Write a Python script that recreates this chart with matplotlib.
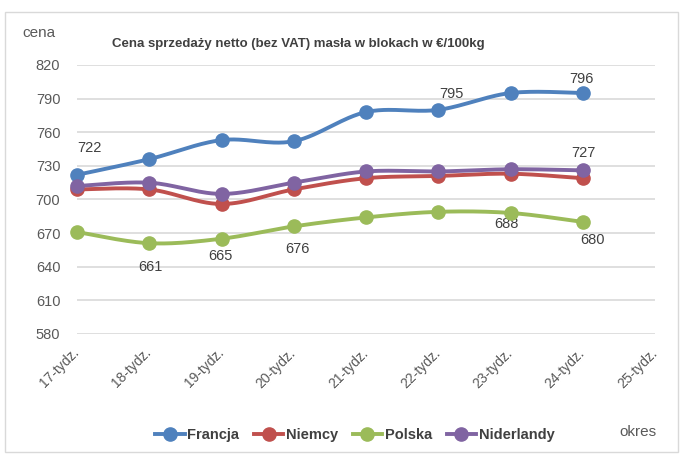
import numpy as np
import matplotlib
matplotlib.use("Agg")
import matplotlib.pyplot as plt
from matplotlib.patches import Rectangle
from matplotlib.lines import Line2D

plt.rcParams['font.family'] = ['Liberation Sans', 'DejaVu Sans']

categories = ["17-tydz.", "18-tydz.", "19-tydz.", "20-tydz.", "21-tydz.",
              "22-tydz.", "23-tydz.", "24-tydz.", "25-tydz."]
francja = [722, 736, 753, 752, 778, 780, 795, 795]
niemcy = [709, 709, 696, 709, 719, 721, 723, 719]
polska = [671, 661, 665, 676, 684, 689, 688, 680]
niderlandy = [712, 715, 705, 715, 725, 725, 727, 726]
yticks = [580, 610, 640, 670, 700, 730, 760, 790, 820]

# data labels: (series, index, text)
label_series = ["francja", "francja", "francja", "niderlandy",
                "polska", "polska", "polska", "polska", "polska"]
label_index = [0, 5, 7, 7, 1, 2, 3, 6, 7]
label_text = ["722", "795", "796", "727", "661", "665", "676", "688", "680"]
# offsets in pixels (dx, dy up)
label_offsets = [(12, 27), (13, 16), (-1, 14), (1, 17), (1, -24), (-1, -17),
                 (4, -23), (-4, -11), (10, -18)]

series = {
    "Francja": (francja, "#4F81BD"),
    "Niemcy": (niemcy, "#C0504D"),
    "Polska": (polska, "#9BBB59"),
    "Niderlandy": (niderlandy, "#8064A2"),
}
key = {"francja": francja, "niemcy": niemcy, "polska": polska, "niderlandy": niderlandy}


def smooth(x, y, n=30, t=0.5):
    x = np.asarray(x, float); y = np.asarray(y, float)
    px = np.concatenate([[x[0]], x, [x[-1]]])
    py = np.concatenate([[y[0]], y, [y[-1]]])
    xs, ys = [], []
    for i in range(1, len(px) - 2):
        p0 = np.array([px[i-1], py[i-1]]); p1 = np.array([px[i], py[i]])
        p2 = np.array([px[i+1], py[i+1]]); p3 = np.array([px[i+2], py[i+2]])
        c1 = p1 + (p2 - p0) * t / 3
        c2 = p2 - (p3 - p1) * t / 3
        s = np.linspace(0, 1, n)[:, None]
        b = (1-s)**3*p1 + 3*(1-s)**2*s*c1 + 3*(1-s)*s**2*c2 + s**3*p2
        xs.append(b[:, 0]); ys.append(b[:, 1])
    return np.concatenate(xs), np.concatenate(ys)


fig = plt.figure(figsize=(6.84, 4.57), dpi=100)
fig.patches.append(Rectangle((5/684, 5/457), 673/684, 440/457, transform=fig.transFigure,
                             fill=False, edgecolor="#D9D9D9", linewidth=1))
ax = fig.add_axes([77/684, 1-334/457, (655-77)/684, (334-65)/457])

gray = "#595959"
for name, (vals, col) in series.items():
    x = np.arange(len(vals))
    sx, sy = smooth(x, vals)
    ax.plot(sx, sy, color=col, lw=2.8, solid_capstyle="round", zorder=3, clip_on=False)
    ax.plot(x, vals, "o", color=col, ms=9.5, zorder=4, clip_on=False)

for s, i, txt, (dx, dy) in zip(label_series, label_index, label_text, label_offsets):
    v = key[s][i]
    ax.annotate(txt, (i, v), xytext=(dx * 0.72, dy * 0.72), textcoords="offset points",
                ha="center", va="center", fontsize=10.5, color="#404040")

ax.set_xlim(0, len(categories) - 1)
ax.set_ylim(580, 820)
ax.set_yticks(yticks)
ax.set_xticks(range(len(categories)))
ax.set_xticklabels(categories, rotation=45, ha="right", va="center",
                   rotation_mode="anchor", fontsize=10, color=gray)
ax.tick_params(axis="x", length=0, pad=12)
ax.tick_params(axis="y", length=0, pad=12, labelsize=10.5, labelcolor=gray)
ax.grid(axis="y", color="#D9D9D9", lw=1.2)
ax.set_axisbelow(True)
for sp in ax.spines.values():
    sp.set_visible(False)

fig.text(22/684, 1-33/457, "cena", fontsize=11, color=gray, va="center", ha="left")
fig.text(298/684, 1-44/457, "Cena sprzedaży netto (bez VAT) masła w blokach w €/100kg",
         fontsize=9.5, fontweight="bold", color="#404040", ha="center", va="center")
fig.text(638/684, 1-432/457, "okres", fontsize=11, color=gray, ha="center", va="center")

handles = [Line2D([], [], color=col, lw=2.8, marker="o", ms=9.5) for _, (v, col) in series.items()]
leg = fig.legend(handles, list(series.keys()), loc="center", bbox_to_anchor=(355/684, 1-435/457),
                 ncol=4, frameon=False, handlelength=2.0, handletextpad=0.2, columnspacing=1.0,
                 prop={"size": 10.5, "weight": "bold"})
for t in leg.get_texts():
    t.set_color("#404040")

fig.savefig("out.png", dpi=100)
